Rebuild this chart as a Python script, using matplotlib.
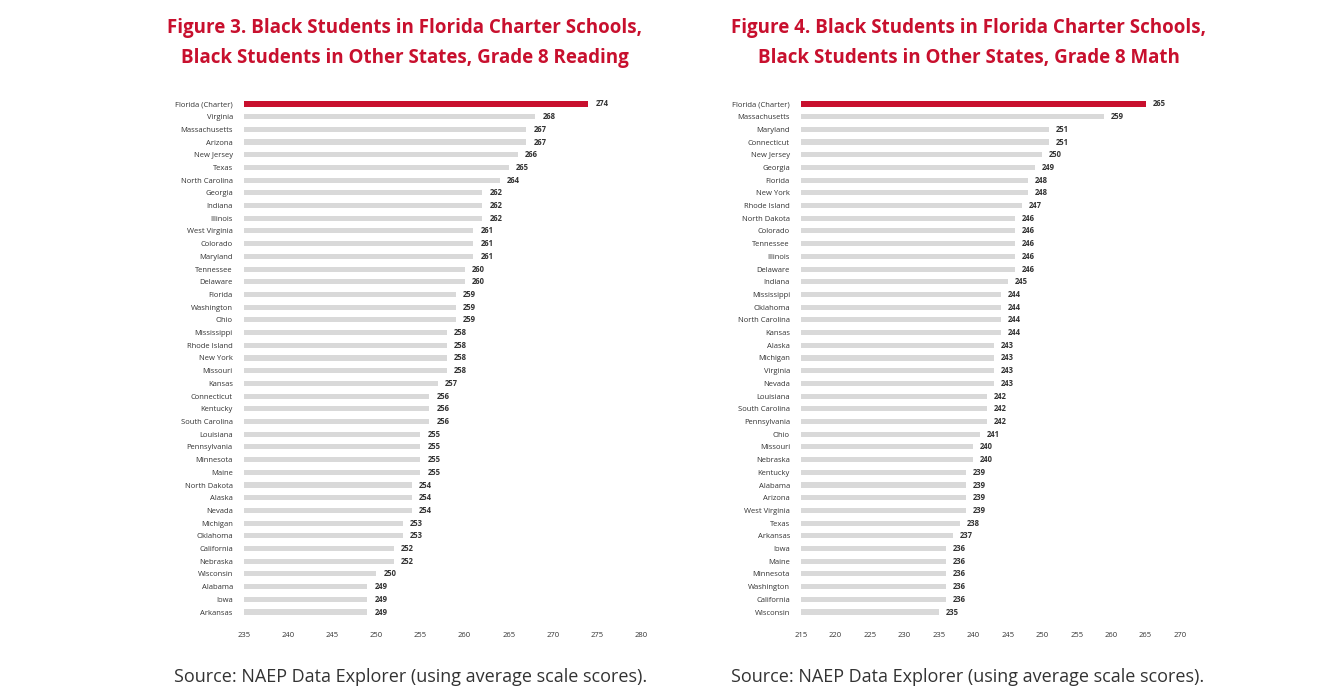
import numpy as np
import matplotlib.pyplot as plt

# Figure 3 - Grade 8 reading
read_states = ["Florida (Charter)", "Virginia", "Massachusetts", "Arizona", "New Jersey",
               "Texas", "North Carolina", "Georgia", "Indiana", "Illinois",
               "West Virginia", "Colorado", "Maryland", "Tennessee", "Delaware",
               "Florida", "Washington", "Ohio", "Mississippi", "Rhode Island",
               "New York", "Missouri", "Kansas", "Connecticut", "Kentucky",
               "South Carolina", "Louisiana", "Pennsylvania", "Minnesota", "Maine",
               "North Dakota", "Alaska", "Nevada", "Michigan", "Oklahoma",
               "California", "Nebraska", "Wisconsin", "Alabama", "Iowa", "Arkansas"]
read_scores = [274, 268, 267, 267, 266, 265, 264, 262, 262, 262,
               261, 261, 261, 260, 260, 259, 259, 259, 258, 258,
               258, 258, 257, 256, 256, 256, 255, 255, 255, 255,
               254, 254, 254, 253, 253, 252, 252, 250, 249, 249, 249]
read_ticks = [235, 240, 245, 250, 255, 260, 265, 270, 275, 280]

# Figure 4 - Grade 8 math
math_states = ["Florida (Charter)", "Massachusetts", "Maryland", "Connecticut", "New Jersey",
               "Georgia", "Florida", "New York", "Rhode Island", "North Dakota",
               "Colorado", "Tennessee", "Illinois", "Delaware", "Indiana",
               "Mississippi", "Oklahoma", "North Carolina", "Kansas", "Alaska",
               "Michigan", "Virginia", "Nevada", "Louisiana", "South Carolina",
               "Pennsylvania", "Ohio", "Missouri", "Nebraska", "Kentucky",
               "Alabama", "Arizona", "West Virginia", "Texas", "Arkansas",
               "Iowa", "Maine", "Minnesota", "Washington", "California", "Wisconsin"]
math_scores = [265, 259, 251, 251, 250, 249, 248, 248, 247, 246,
               246, 246, 246, 246, 245, 244, 244, 244, 244, 243,
               243, 243, 243, 242, 242, 242, 241, 240, 240, 239,
               239, 239, 239, 238, 237, 236, 236, 236, 236, 236, 235]
math_ticks = [215, 220, 225, 230, 235, 240, 245, 250, 255, 260, 265, 270]

titles = ["Figure 3. Black Students in Florida Charter Schools,\nBlack Students in Other States, Grade 8 Reading",
          "Figure 4. Black Students in Florida Charter Schools,\nBlack Students in Other States, Grade 8 Math"]
source = "Source: NAEP Data Explorer (using average scale scores)."

RED = "#c8102e"
GREY = "#d9d9d9"
TXT = "#333333"

plt.rcParams['font.family'] = ['Open Sans', 'DejaVu Sans']

fig = plt.figure(figsize=(13.44, 7), dpi=100)
fig.patch.set_facecolor("white")


def draw(ax, states, scores, ticks):
    n = len(states)
    y = np.arange(n)
    colors = [RED if i == 0 else GREY for i in range(n)]
    heights = [0.5 if i == 0 else 0.4 for i in range(n)]
    base = ticks[0]
    vals = np.array(scores) - base
    ax.barh(y, vals, left=base, height=heights, color=colors)
    for yi, s in zip(y, scores):
        ax.text(s + (ticks[-1] - ticks[0]) * 0.018, yi, str(s), va="center", ha="left",
                fontsize=5.5, color=TXT, fontweight="bold")
    ax.set_yticks(y)
    ax.set_yticklabels(states, fontsize=5.5, color=TXT)
    ax.set_ylim(n - 0.5, -0.5)
    ax.set_xlim(ticks[0], ticks[-1])
    ax.set_xticks(ticks)
    ax.set_xticklabels([str(t) for t in ticks], fontsize=5.5, color=TXT)
    ax.tick_params(axis="y", length=0, pad=8)
    ax.tick_params(axis="x", length=0, pad=10)
    for sp in ax.spines.values():
        sp.set_visible(False)


ax1 = fig.add_axes([0.1815, 0.1166, 0.2955, 0.744])
draw(ax1, read_states, read_scores, read_ticks)
ax2 = fig.add_axes([0.596, 0.1166, 0.282, 0.744])
draw(ax2, math_states, math_scores, math_ticks)

for cx, sx, t in zip([405, 969], [411, 968], titles):
    fig.text(cx / 1344, 1 - 43 / 700, t, ha="center", va="center", fontsize=13.5,
             fontweight="bold", color=RED, linespacing=1.65)
    fig.text(sx / 1344, 1 - 677 / 700, source, ha="center", va="center",
             fontsize=13, color=TXT)

fig.savefig("out.png", dpi=100, facecolor="white")
